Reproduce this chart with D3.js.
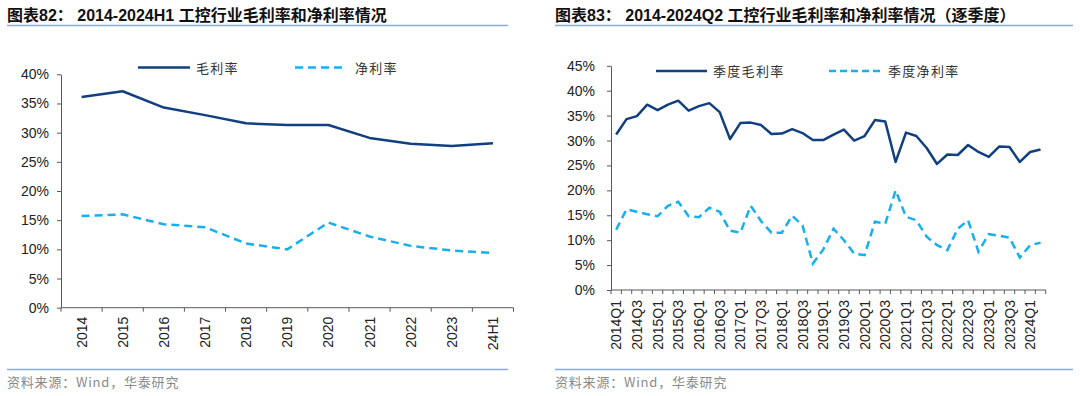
<!DOCTYPE html>
<html>
<head>
<meta charset="utf-8">
<script src="https://cdn.jsdelivr.net/npm/d3@7"></script>
<style>
  body { margin: 0; background: #fff; }
  text { font-family: "Liberation Sans", Arial, "Noto Sans CJK SC", sans-serif; }
  .cjk { font-family: "Noto Sans CJK SC", sans-serif; }
</style>
</head>
<body>
<script>
// chart 82: yearly
var years = ["2014", "2015", "2016", "2017", "2018", "2019", "2020", "2021", "2022", "2023", "24H1"];
var grossYear = [36.1, 37.1, 34.3, 33.0, 31.6, 31.3, 31.3, 29.1, 28.1, 27.7, 28.2];
var netYear = [15.7, 16.0, 14.3, 13.8, 11.0, 10.0, 14.6, 12.2, 10.6, 9.8, 9.4];
var yTicksYear = [0, 5, 10, 15, 20, 25, 30, 35, 40];

// chart 83: quarterly
var quarters = [
  "2014Q1", "2014Q2", "2014Q3", "2014Q4", "2015Q1", "2015Q2", "2015Q3", "2015Q4",
  "2016Q1", "2016Q2", "2016Q3", "2016Q4", "2017Q1", "2017Q2", "2017Q3", "2017Q4",
  "2018Q1", "2018Q2", "2018Q3", "2018Q4", "2019Q1", "2019Q2", "2019Q3", "2019Q4",
  "2020Q1", "2020Q2", "2020Q3", "2020Q4", "2021Q1", "2021Q2", "2021Q3", "2021Q4",
  "2022Q1", "2022Q2", "2022Q3", "2022Q4", "2023Q1", "2023Q2", "2023Q3", "2023Q4",
  "2024Q1", "2024Q2"
];
var grossQ = [31.2, 34.3, 34.9, 37.2, 36.1, 37.2, 38.0, 36.0, 36.9, 37.5, 35.7, 30.3,
  33.5, 33.6, 33.1, 31.3, 31.4, 32.3, 31.5, 30.1, 30.1, 31.2, 32.2, 30.0,
  30.9, 34.1, 33.8, 25.7, 31.6, 30.9, 28.5, 25.3, 27.2, 27.1, 29.1, 27.7,
  26.7, 28.8, 28.7, 25.7, 27.7, 28.2];
var netQ = [12.1, 16.2, 15.7, 15.2, 14.8, 16.9, 17.7, 14.8, 14.6, 16.5, 15.7, 11.9,
  11.5, 16.9, 13.8, 11.5, 11.5, 14.9, 13.0, 5.3, 8.1, 12.3, 10.0, 7.3,
  7.0, 13.7, 13.3, 20.0, 14.7, 14.0, 10.7, 9.0, 8.0, 12.3, 14.0, 7.7,
  11.2, 10.9, 10.5, 6.5, 9.0, 9.5];
var yTicksQ = [0, 5, 10, 15, 20, 25, 30, 35, 40, 45];

var navy = "#123f80";
var sky = "#16b0ef";
var rule = "#8eaad6";
var axisColor = "#595959";

var svg = d3.select("body").append("svg").attr("width", 1080).attr("height", 396);

function drawPanel(opt) {
  var g = svg.append("g");

  // title and rules
  g.append("text")
    .attr("x", opt.left)
    .attr("y", 21)
    .attr("font-size", 16)
    .attr("font-weight", "bold")
    .attr("fill", "#111")
    .text(opt.title);
  g.append("line")
    .attr("x1", opt.left).attr("x2", opt.right)
    .attr("y1", 25.5).attr("y2", 25.5)
    .attr("stroke", rule).attr("stroke-width", 1.5);
  g.append("line")
    .attr("x1", opt.left).attr("x2", opt.right)
    .attr("y1", 369.5).attr("y2", 369.5)
    .attr("stroke", rule).attr("stroke-width", 1.5);
  g.append("text")
    .attr("class", "cjk")
    .attr("x", opt.left)
    .attr("y", 387)
    .attr("font-size", 13)
    .attr("letter-spacing", 0.8)
    .attr("fill", "#8a8a8a")
    .text("资料来源：Wind，华泰研究");

  var x = d3.scaleBand().domain(opt.cats).range(opt.xRange).padding(0);
  var y = d3.scaleLinear().domain([0, opt.yMax]).range(opt.yRange);

  // y axis
  var yAxis = g.append("g")
    .attr("transform", "translate(" + opt.xRange[0] + ",0)")
    .call(d3.axisLeft(y).tickValues(opt.yTicks)
      .tickFormat(function (d) { return d + "%"; })
      .tickSize(4).tickSizeOuter(0).tickPadding(opt.yPad));
  yAxis.select(".domain").attr("stroke", axisColor);
  yAxis.selectAll(".tick line").attr("stroke", axisColor);
  yAxis.selectAll("text").attr("font-size", 14).attr("fill", "#222")
    .attr("font-family", "Liberation Sans, Arial, sans-serif");

  // x axis line and boundary ticks
  var y0 = y(0);
  g.append("line")
    .attr("x1", opt.xRange[0]).attr("x2", opt.xRange[1])
    .attr("y1", y0).attr("y2", y0)
    .attr("stroke", axisColor);
  g.selectAll(".bticks")
    .data(d3.range(opt.cats.length + 1))
    .enter()
    .append("line")
    .attr("x1", function (i) { return opt.xRange[0] + i * x.step(); })
    .attr("x2", function (i) { return opt.xRange[0] + i * x.step(); })
    .attr("y1", y0).attr("y2", y0 + 4)
    .attr("stroke", axisColor);

  var xAxis = g.append("g")
    .attr("transform", "translate(0," + y0 + ")")
    .call(d3.axisBottom(x).tickSize(0).tickValues(opt.xLabels));
  xAxis.select(".domain").remove();
  xAxis.selectAll("text")
    .attr("transform", "rotate(-90)")
    .attr("text-anchor", "end")
    .attr("x", -opt.xPad)
    .attr("y", 0)
    .attr("dy", "0.36em")
    .attr("font-size", 14)
    .attr("fill", "#222")
    .attr("font-family", "Liberation Sans, Arial, sans-serif");

  // lines
  var line = d3.line()
    .x(function (d, i) { return x(opt.cats[i]) + x.bandwidth() / 2; })
    .y(function (d) { return y(d); });

  g.append("path")
    .datum(opt.net)
    .attr("fill", "none")
    .attr("stroke", sky)
    .attr("stroke-width", 2.5)
    .attr("stroke-dasharray", "8,5")
    .attr("d", line);
  g.append("path")
    .datum(opt.gross)
    .attr("fill", "none")
    .attr("stroke", navy)
    .attr("stroke-width", 2.5)
    .attr("stroke-linejoin", "round")
    .attr("d", line);

  // legend
  var lg = opt.legend;
  g.append("line")
    .attr("x1", lg.x1).attr("x2", lg.x1 + lg.len)
    .attr("y1", lg.y).attr("y2", lg.y)
    .attr("stroke", navy).attr("stroke-width", 2.5);
  g.append("text")
    .attr("class", "cjk")
    .attr("x", lg.x1 + lg.len + 6).attr("y", lg.y + 5)
    .attr("font-size", 13).attr("letter-spacing", 1.3)
    .attr("fill", "#333")
    .text(lg.names[0]);
  g.append("line")
    .attr("x1", lg.x2).attr("x2", lg.x2 + lg.len)
    .attr("y1", lg.y).attr("y2", lg.y)
    .attr("stroke", sky).attr("stroke-width", 2.5)
    .attr("stroke-dasharray", lg.dash);
  g.append("text")
    .attr("class", "cjk")
    .attr("x", lg.x2 + lg.len + 8).attr("y", lg.y + 5)
    .attr("font-size", 13).attr("letter-spacing", 1.3)
    .attr("fill", "#333")
    .text(lg.names[1]);
}

drawPanel({
  title: "图表82：  2014-2024H1 工控行业毛利率和净利率情况",
  left: 7, right: 508,
  cats: years, xLabels: years,
  gross: grossYear, net: netYear,
  yMax: 40, yTicks: yTicksYear,
  xRange: [61, 513.5], yRange: [307.7, 74.3],
  yPad: 8, xPad: 9,
  legend: { x1: 138, x2: 295, len: 52, y: 67.5, dash: "8,5", names: ["毛利率", "净利率"] }
});

drawPanel({
  title: "图表83：  2014-2024Q2 工控行业毛利率和净利率情况（逐季度）",
  left: 555, right: 1073,
  cats: quarters,
  xLabels: quarters.filter(function (d) { return /Q[13]$/.test(d); }),
  gross: grossQ, net: netQ,
  yMax: 45, yTicks: yTicksQ,
  xRange: [611, 1045.7], yRange: [290, 65.8],
  yPad: 12, xPad: 10,
  legend: { x1: 656, x2: 829, len: 51, y: 71, dash: "7,4", names: ["季度毛利率", "季度净利率"] }
});
</script>
</body>
</html>
